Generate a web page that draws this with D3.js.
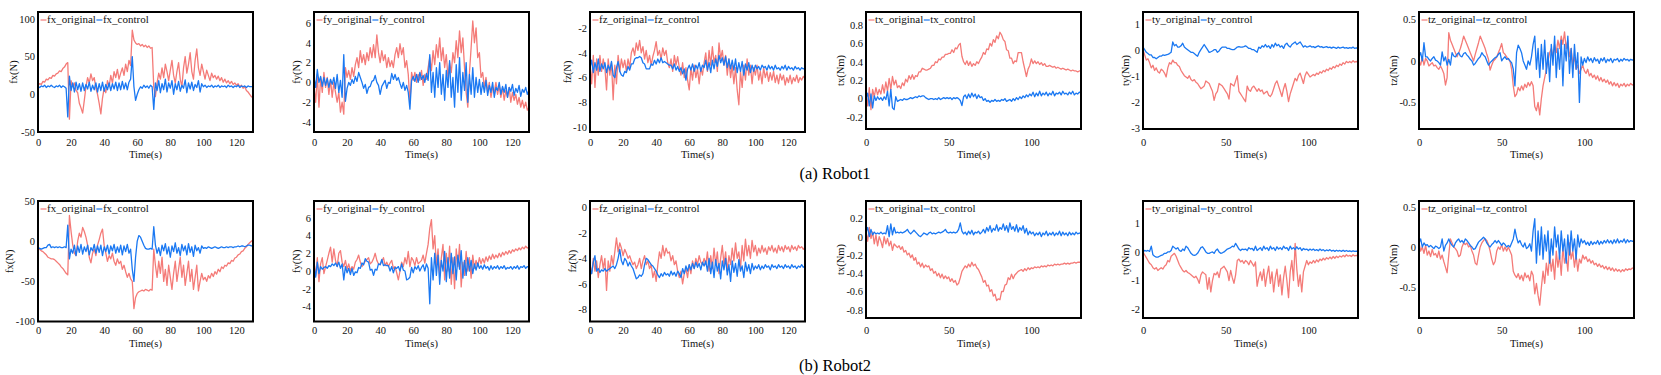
<!DOCTYPE html>
<html>
<head>
<meta charset="utf-8">
<script src="https://cdn.jsdelivr.net/npm/d3@7"></script>
<style>
body { margin: 0; background: #fff; }
svg { display: block; }
svg text { font-family: "Liberation Serif", "Times New Roman", Times, serif; fill: #111; }
</style>
</head>
<body>
<svg id="fig" width="1661" height="375"></svg>
<script>
// sample times (s), one sample per second
const timeSec = d3.range(0, 131);

const xTicksForce = [0, 20, 40, 60, 80, 100, 120];
const xTicksTorque = [0, 50, 100];

// y tick values per panel
const yTicksR1Fx = [-50, 0, 50, 100];
const yTicksR1Fy = [-4, -2, 0, 2, 4, 6];
const yTicksR1Fz = [-10, -8, -6, -4, -2];
const yTicksR1Tx = [-0.2, 0, 0.2, 0.4, 0.6, 0.8];
const yTicksR1Ty = [-3, -2, -1, 0, 1];
const yTicksR1Tz = [-0.5, 0, 0.5];
const yTicksR2Fx = [-100, -50, 0, 50];
const yTicksR2Fy = [-4, -2, 0, 2, 4, 6];
const yTicksR2Fz = [-8, -6, -4, -2, 0];
const yTicksR2Tx = [-0.8, -0.6, -0.4, -0.2, 0, 0.2];
const yTicksR2Ty = [-2, -1, 0, 1];
const yTicksR2Tz = [-0.5, 0, 0.5];

// ---------- Robot1 ----------
const r1FxOriginal = [
  12,14,13,17,16,20,19,22,21,25,
  24,27,28,31,30,34,36,40,42,-33,
  18,10,15,5,2,-12,-18,-25,-8,10,
  22,15,27,18,22,8,0,-12,-26,-5,
  8,2,18,10,25,15,30,22,33,20,
  28,35,25,40,30,45,38,85,72,68,
  66,67,64,66,63,65,62,64,61,62,
  10,-3,15,28,20,35,22,40,30,18,
  32,45,25,15,30,42,20,10,35,50,
  28,40,55,30,20,45,60,35,25,40,
  30,20,32,25,18,28,22,25,20,24,
  18,22,16,20,15,18,14,17,13,15,
  12,14,10,12,8,10,5,3,0,-3,-5];
const r1FxControl = [
  10,9,11,10,12,9,11,10,12,10,
  9,11,10,12,9,11,10,8,-30,24,
  5,15,3,16,6,14,4,15,5,13,
  7,16,4,12,6,15,3,14,5,16,
  4,13,6,15,5,14,7,16,5,15,
  6,17,7,15,6,16,20,50,10,-8,
  0,6,10,8,12,9,11,8,12,10,
  -20,15,5,18,2,14,6,20,3,15,
  8,18,0,14,6,17,4,12,8,19,
  2,15,7,16,5,13,9,18,3,14,
  10,12,9,11,10,12,9,11,10,12,
  9,11,10,11,9,12,10,11,9,11,
  10,12,9,11,10,11,9,11,10,10,10];

const r1FyOriginal = [
  -0.5,-2,0.8,-2.5,0.5,-1,1,-0.5,0.5,-1.2,
  0.3,-1.5,0,-1,-2,-1,-3,-2,-3.2,1.5,
  0.5,1.2,0.3,1.5,0.6,1.8,2.5,1.5,3.2,2,
  2.8,1.8,3,2.2,3.5,2.5,3.8,2.5,4.8,3,
  2,3.2,2.2,2.8,1.5,2.5,1.6,2.2,1.5,2.8,
  3.5,2.5,3.9,2.8,3.5,1.5,2.2,0.8,-2.1,1,
  0.2,1,0,0.8,0.2,1.2,-0.3,0.8,0.3,1.5,
  2.5,1.2,3.2,1.8,3.8,2.5,4.5,2.2,3.5,1.5,
  2.8,0.5,2,1,3,2,4.2,2.5,5.2,3,
  4.5,1.5,-1,-2.5,1,3.5,6.2,4,5.5,2.5,
  3,0.5,1,-0.5,0.5,-1,0,-1.5,-0.5,-1,
  0,-1.2,-0.3,-1.5,-0.5,-1.8,-0.8,-1.5,-0.5,-2,
  -1,-1.8,-1.2,-2.2,-1.5,-2.5,-1.8,-2.6,-2,-2.8,-2.5];
const r1FyControl = [
  0.5,-0.5,1.3,0,0.6,-0.4,0.5,-0.3,0.4,-0.5,
  0.3,-0.2,0.5,-0.6,0.8,-1,0.2,-1.5,2.8,-1.9,
  -0.6,0,-0.3,0.3,-0.1,0.6,0.1,1,0.5,0,
  -0.6,-0.2,-1.1,-0.5,-0.4,0.1,0.2,0.7,0,-0.3,
  -1.2,-0.4,-0.1,0.2,-0.6,0,-0.1,0.9,0.3,0.8,
  0.2,0.5,-0.1,-0.6,0,-0.8,-0.3,-1,-2.7,0.2,
  0.6,0.1,0.8,0,1,0.3,0.7,0,0.9,0.2,
  2.8,-1,1,-1.5,1.5,-0.5,2,-1.2,0.8,-1.8,
  1.2,-0.5,2.2,-1.5,0.5,-2.5,1.8,-1,2.5,-1.8,
  1,-0.8,2,-2,0.8,-1.2,1.5,-1.5,0.5,-1,
  0.3,-1.2,0,-1,0.2,-1.3,-0.3,-1,0,-1.5,
  -0.5,-0.8,0,-1.2,-0.4,-1,-0.2,-1.5,-0.5,-0.9,
  -0.2,-1.3,-0.6,-1,-0.3,-1.4,-0.7,-1,-0.5,-1.2,-0.8];

const r1FzOriginal = [
  -5,-6.5,-4.2,-6.8,-4.5,-5.8,-4.2,-5.5,-4.5,-5.2,
  -7,-4.5,-5.8,-4.8,-7.8,-5,-6.5,-4.2,-5.5,-4.5,
  -5.2,-4.6,-5.5,-4.5,-5.2,-4,-3.6,-4.2,-3.2,-3.8,
  -3,-4,-3.5,-4.5,-3.8,-4.8,-4.2,-5,-4.3,-3.8,
  -3.1,-4.2,-3.8,-4.5,-3.6,-4.2,-3.8,-4.8,-5.2,-4.5,
  -5.5,-4.2,-5,-4.3,-5.2,-5.8,-4.8,-6,-5.2,-6.2,
  -7,-5.2,-6.2,-5,-6,-5.3,-6.5,-5.2,-5.8,-4.8,
  -4,-5.5,-3.8,-5,-3.5,-4.8,-4.2,-5.5,-3.2,-4.5,
  -3.8,-5,-4.2,-5.8,-4.5,-6,-5,-6.5,-5.2,-7,
  -8.2,-5.5,-6.8,-5,-6.2,-4.5,-5.8,-5,-6.5,-5.2,
  -5.8,-5,-6.2,-5.5,-6.5,-5.2,-6,-5.5,-6.3,-5.6,
  -6.2,-5.5,-6.4,-5.8,-6.5,-5.7,-6.2,-5.8,-6.6,-6,
  -6.4,-5.8,-6.5,-6,-6.3,-5.8,-6.4,-6,-6.2,-5.9,-6.1];
const r1FzControl = [
  -5.2,-4.6,-5.6,-4.8,-5.4,-4.5,-5.5,-4.9,-5.3,-4.8,
  -5.6,-5,-5.4,-4.7,-5.8,-6,-5.2,-4.7,-5.5,-5.8,
  -5.9,-5.5,-5.6,-5.1,-5.4,-4.9,-4.9,-4.5,-4.4,-4.4,
  -4.3,-4.4,-4.8,-4.9,-5.3,-5.3,-5.3,-4.9,-5,-4.6,
  -4.9,-4.5,-4.8,-4.4,-4.8,-4.7,-4.8,-4.9,-5,-5,
  -5.3,-4.9,-5.4,-5.1,-5.5,-5.2,-5.7,-5.3,-6.2,-5.3,
  -5,-5.4,-4.9,-5.5,-5,-5.3,-4.8,-5.5,-5,-5.2,
  -4.6,-5.4,-4.8,-5.6,-4.6,-5.3,-4.5,-5.1,-4.2,-4.8,
  -4.4,-5,-4.3,-5.2,-4.5,-5.3,-4.6,-5.4,-4.5,-5.6,
  -4.8,-5.5,-4.7,-5.8,-4.9,-5.4,-4.8,-5.6,-5,-5.5,
  -5,-5.3,-5.1,-5.4,-5,-5.2,-5.1,-5.4,-5,-5.3,
  -5.1,-5.4,-5,-5.3,-5.2,-5.4,-5.1,-5.3,-5,-5.4,
  -5.1,-5.3,-5.2,-5.4,-5.1,-5.3,-5.2,-5.4,-5.2,-5.3,-5.2];

const r1TxOriginal = [
  0.05,-0.08,0.12,-0.12,0.1,0.02,0.12,0.04,0.1,0.05,
  0.15,0.06,0.18,0.08,0.22,0.1,0.24,0.15,0.2,0.12,
  0.14,0.11,0.17,0.14,0.21,0.18,0.25,0.21,0.26,0.21,
  0.25,0.24,0.29,0.29,0.33,0.32,0.31,0.31,0.32,0.33,
  0.36,0.36,0.4,0.39,0.43,0.42,0.45,0.45,0.48,0.48,
  0.49,0.49,0.53,0.5,0.55,0.54,0.58,0.6,0.46,0.4,
  0.37,0.41,0.36,0.4,0.35,0.38,0.36,0.4,0.38,0.42,
  0.45,0.5,0.48,0.54,0.53,0.6,0.57,0.64,0.61,0.68,
  0.65,0.72,0.69,0.64,0.62,0.53,0.52,0.44,0.44,0.38,
  0.41,0.4,0.5,0.5,0.5,0.4,0.32,0.24,0.32,0.36,
  0.43,0.38,0.41,0.38,0.4,0.37,0.39,0.36,0.38,0.35,
  0.35,0.36,0.35,0.34,0.35,0.33,0.34,0.33,0.32,0.33,
  0.32,0.31,0.32,0.31,0.3,0.31,0.3,0.3,0.29,0.3,0.3];
const r1TxControl = [
  0,0.06,-0.08,0.05,-0.1,0.03,-0.02,0.02,-0.01,0.01,
  -0.02,0.02,-0.01,0.08,-0.08,0.1,-0.1,-0.12,0.02,-0.03,
  -0.02,-0.01,-0.02,0,-0.01,-0.01,0,0.01,0,0.01,
  0.02,0.01,0.03,0.02,0.03,0.03,0.01,0,-0.01,0,
  0,-0.01,0,-0.01,0.01,-0.01,0,0.01,0,0.01,
  0,0.01,-0.01,0.01,0,0.01,0,-0.02,-0.075,0.02,
  0.04,0,0.05,0.01,0.06,0.02,0.05,0,0.04,0.01,
  0.02,-0.02,0,-0.03,-0.02,-0.04,-0.02,-0.03,-0.01,-0.03,
  -0.02,-0.03,-0.01,-0.02,0,-0.03,-0.02,-0.01,-0.03,0,
  -0.02,0.01,-0.01,0.02,0,0.03,0.01,0.04,0.02,0.05,
  0.03,0.07,0.02,0.06,0.03,0.08,0.03,0.06,0.04,0.07,
  0.03,0.06,0.04,0.08,0.03,0.06,0.05,0.07,0.04,0.08,
  0.05,0.06,0.04,0.07,0.05,0.08,0.04,0.06,0.05,0.07,0.06];

const r1TyOriginal = [
  0,-0.2,-0.4,-0.35,-0.5,-0.7,-0.6,-0.8,-0.7,-0.85,
  -0.9,-0.75,-0.8,-0.9,-1.05,-0.7,-0.5,-0.55,-0.4,-0.5,
  -0.5,-0.6,-0.65,-0.8,-0.9,-1,-1.05,-1.1,-1,-1.15,
  -1.2,-1.15,-1.25,-1.3,-1.4,-1.5,-1.45,-1.4,-1.2,-1.25,
  -1.3,-1.45,-1.6,-1.95,-1.7,-1.6,-1.3,-1.35,-1.4,-1.5,
  -1.6,-1.7,-1.9,-1.3,-1.35,-1.4,-1.2,-1,-1.6,-1.7,
  -1.8,-1.9,-2,-1.4,-1.55,-1.6,-1.45,-1.4,-1.5,-1.6,
  -1.5,-1.6,-1.55,-1.7,-1.65,-1.6,-1.75,-1.8,-1.7,-1.5,
  -1.3,-1.2,-1.4,-1.6,-1.8,-1.5,-1.3,-1.6,-2,-1.7,
  -1.5,-1.3,-1.1,-1.2,-1,-0.9,-1.1,-1.3,-1,-0.85,
  -0.95,-1.05,-1,-0.95,-1,-0.9,-0.95,-0.85,-0.9,-0.8,
  -0.85,-0.75,-0.8,-0.7,-0.75,-0.65,-0.7,-0.6,-0.65,-0.55,
  -0.6,-0.5,-0.55,-0.45,-0.5,-0.45,-0.5,-0.42,-0.48,-0.45,-0.5];
const r1TyControl = [
  0.1,0,-0.1,-0.15,-0.2,-0.2,-0.3,-0.3,-0.35,-0.3,
  -0.25,-0.25,-0.2,-0.22,-0.2,-0.18,-0.15,-0.1,0.3,0.15,
  0.2,0.1,0.1,0.15,0.25,0.1,0.05,0,-0.05,-0.1,
  -0.1,-0.15,-0.2,-0.25,-0.1,0,0.1,0.2,0.1,0,
  -0.1,-0.08,-0.05,0,0,-0.1,-0.05,0.05,0.1,0.1,
  0.1,0.05,0.05,0.02,0,0,0.05,0.1,0.12,0.1,
  0.1,0.12,0.15,0.1,0.05,0.05,0,0,-0.05,-0.1,
  0.1,0.05,0.15,0.1,0.2,0.1,0.15,0.05,0.2,0.1,
  0.25,0.15,0.2,0.1,0.15,0.05,0.2,0.25,0.15,0.1,
  0.2,0.25,0.3,0.2,0.25,0.3,0.2,0.1,0.15,0.1,
  0.12,0.15,0.1,0.12,0.08,0.12,0.15,0.1,0.12,0.08,
  0.1,0.12,0.08,0.1,0.06,0.1,0.08,0.05,0.1,0.06,
  0.08,0.1,0.06,0.08,0.05,0.08,0.06,0.1,0.05,0.07,0.05];

const r1TzOriginal = [
  0,-0.05,0.05,-0.05,0.03,0,-0.06,-0.04,-0.02,-0.06,
  -0.05,-0.08,-0.1,-0.06,-0.1,-0.15,-0.29,-0.2,0.34,0.25,
  0.2,0.15,0.1,0.05,0.1,0.15,0.22,0.3,0.25,0.2,
  0.15,0.1,0.05,0,0.08,0.15,0.22,0.3,0.25,0.2,
  0.15,0.08,0.02,-0.11,-0.05,0,0.02,0.05,0.1,0.15,
  0.21,0.1,0.08,0.05,0.02,0,-0.1,-0.3,-0.43,-0.4,
  -0.32,-0.36,-0.3,-0.35,-0.28,-0.32,-0.26,-0.3,-0.25,-0.3,
  -0.55,-0.6,-0.5,-0.65,-0.45,-0.3,-0.2,-0.1,0,0.1,
  0.15,0.05,0.2,0.1,0.25,0.15,0.3,0.2,0.35,0.15,
  0.25,0.05,0.15,-0.05,0.05,-0.1,-0.05,-0.15,-0.1,-0.05,
  -0.12,-0.15,-0.1,-0.18,-0.15,-0.2,-0.17,-0.22,-0.18,-0.24,
  -0.2,-0.25,-0.22,-0.26,-0.23,-0.28,-0.25,-0.3,-0.26,-0.3,
  -0.27,-0.32,-0.28,-0.3,-0.27,-0.31,-0.28,-0.3,-0.27,-0.29,-0.28];
const r1TzControl = [
  0.05,0.1,0,0.22,0.05,0.05,0.02,0,0.03,0.05,
  0.01,0,-0.02,-0.05,0.11,0,0.05,-0.05,0.02,-0.05,
  0.1,0.06,0.05,0.08,0.1,0.06,0.05,0.09,0.1,0.07,
  0.05,0.02,0,-0.05,-0.03,0,0.03,0.05,0.1,0.07,
  0.05,0,-0.05,-0.02,0,0.02,0.04,0.05,0.08,0.1,
  0,0.03,0.05,0.02,0.03,0,-0.02,-0.1,-0.3,0.1,
  0.19,0.15,0.1,0,-0.05,-0.1,0,-0.05,0.05,0.2,
  0.3,-0.1,0.15,-0.2,0.2,-0.1,0.25,-0.15,0.1,-0.25,
  0.2,-0.05,0.3,-0.2,0.15,-0.1,0.25,-0.3,0.2,0,
  0.3,-0.15,0.15,-0.2,0.2,-0.1,0.1,-0.5,0.05,-0.05,
  0.03,-0.02,0.05,0,0.03,-0.02,0.04,0,0.02,-0.03,
  0.03,0,0.04,-0.02,0.02,0,0.03,-0.02,0.02,0.01,
  0.03,-0.01,0.02,0,0.03,0.01,0.02,0,0.02,0.01,0.02];

// ---------- Robot2 ----------
const r2FxOriginal = [
  -8,-10,-12,-13,-15,-17,-20,-21,-22,-22,
  -23,-25,-27,-29,-32,-34,-37,-40,-42,32,
  12,-5,-15,-18,0,10,5,17,12,5,
  -5,-20,-27,-15,-10,-18,-5,2,10,15,
  -5,-15,-25,-18,-22,-15,-25,-30,-22,-28,
  -25,-35,-30,-38,-45,-40,-47,-50,-84,-70,
  -65,-63,-62,-61,-62,-60,-61,-62,-60,-61,
  -10,-30,-45,-25,-40,-20,-50,-35,-55,-30,
  -45,-60,-40,-25,-50,-35,-20,-45,-30,-55,
  -40,-25,-50,-35,-60,-45,-30,-62,-50,-40,
  -48,-45,-50,-43,-46,-40,-44,-38,-41,-35,
  -38,-32,-34,-30,-31,-27,-28,-24,-25,-21,
  -20,-17,-16,-13,-12,-9,-7,-4,-2,0,1];
const r2FxControl = [
  -8,-9,-10,-9,-8,-8,-5,-4,-8,-7,
  -8,-7,-8,-7,-8,-8,-7,-8,20,-22,
  -10,-15,-5,-18,-6,-14,-4,-16,-7,-13,
  -5,-17,-8,-12,-4,-15,-6,-14,-5,-18,
  -7,-13,-5,-16,-6,-12,-4,-15,-7,-14,
  -5,-17,-6,-13,-4,-15,-10,-35,-50,-20,
  0,7,5,0,-5,-9,-10,-10,-9,-10,
  18,-5,-15,-8,-18,-5,-12,-3,-16,-7,
  -20,-6,-13,-2,-15,-8,-18,-4,-12,-6,
  -17,-3,-14,-7,-19,-5,-12,-8,-15,-6,
  -9,-8,-9,-7,-8,-9,-8,-7,-8,-9,
  -8,-7,-8,-8,-7,-8,-7,-7,-8,-7,
  -7,-6,-7,-6,-6,-7,-6,-5,-5,-6,-5];

const r2FyOriginal = [
  1,-0.5,1.5,-1.2,0.8,1.5,-0.3,0.5,1.2,2,
  2.7,1,2.5,1.2,0.5,2,2.3,1,0.5,1.2,
  0.2,0.8,0,0.5,0.2,1,1.3,1.8,1,0.5,
  0.8,1.1,1.3,1.5,0.8,1,1.4,2,1.2,0.8,
  0.7,1.1,1.5,0.6,1,0.5,0.9,1.2,0.3,0.5,
  -0.2,-1,0,1,0.5,1.5,0.8,2.2,0.5,1.5,
  1.2,0.6,1.5,0.8,1,1.2,1.8,0.9,2,3,
  4.8,5.8,2.5,4,0.5,2.5,-0.5,1.5,3,-1,
  2,0,2.8,-1.5,1.5,-2,2.5,0.5,3,-1.8,
  1,-0.5,2.2,0,1.5,-0.8,1.8,0.3,1.2,0.5,
  1.5,0.8,1.4,0.9,1.6,1.1,1.7,1.3,1.9,1.4,
  1.8,1.5,2,1.6,2.1,1.8,2.2,1.9,2.3,2,
  2.4,2.2,2.5,2.3,2.6,2.4,2.7,2.5,2.8,2.6,2.7];
const r2FyControl = [
  0.5,-0.7,1,-0.3,0.5,0.2,0.4,0.5,0.3,0.6,
  0.5,0.8,0.6,0.9,0.5,1,0.3,0.8,-1,0.5,
  -0.2,0.3,-0.4,0.3,-0.5,-0.1,-0.2,0.4,0.3,0.9,
  0.7,1.4,1.1,1,0.1,0.2,-0.5,0.2,0.1,0.8,
  0.7,1.3,0.6,0.7,0.6,0.6,0,0.5,-0.2,0.4,
  0.3,0.5,0,0.8,0.1,0,-1,-0.9,-0.7,0.4,
  -0.2,0.5,0.2,0.6,0,0.4,0.7,0,0.8,0.3,
  -3.7,1.5,-1,2,-0.5,1.8,-1.5,1.2,0,2.2,
  -1.2,1.5,-0.8,2,-0.3,1.6,-1,1.8,0.2,2.3,
  -0.8,1.2,-0.5,1.5,0,1.2,-0.3,0.8,0.1,0.9,
  0.3,0.6,0.2,0.7,0.3,0.5,0.1,0.6,0.2,0.5,
  0.3,0.6,0.2,0.5,0.3,0.6,0.2,0.4,0.3,0.5,
  0.2,0.5,0.3,0.6,0.2,0.5,0.4,0.6,0.3,0.5,0.4];

const r2FzOriginal = [
  -4.5,-5.2,-4,-5,-4.2,-5.5,-4.5,-3.8,-4.8,-4,
  -6.5,-4.2,-5,-3.8,-4.5,-3.5,-2.4,-3.5,-2.8,-3.2,
  -3.8,-3.3,-3.6,-4,-3.8,-4.2,-4.5,-4.3,-4.8,-4.5,
  -4,-4.8,-4.2,-3.8,-4.5,-4.2,-4.8,-4.5,-5.5,-5,
  -5.8,-4.5,-3.5,-4,-3,-3.8,-3.2,-3.6,-3.5,-4.2,
  -3.8,-4.5,-4.2,-5,-5.5,-5,-6,-5.2,-4.8,-5.5,
  -4.5,-5.2,-4.2,-4.8,-4,-4.5,-3.8,-4.3,-4.5,-4,
  -4.5,-3.5,-5,-3.8,-4.8,-3.2,-4.5,-3.5,-5.2,-4,
  -3,-4.5,-3.5,-5,-3.8,-4.5,-3.2,-4.2,-2.8,-4,
  -3.5,-4.8,-3,-4.2,-2.5,-3.8,-3,-4,-2.6,-3.5,
  -3,-3.8,-3.2,-3.6,-3,-3.5,-3.2,-3.7,-3.1,-3.4,
  -3,-3.5,-3.2,-3.6,-3,-3.4,-3.1,-3.5,-3,-3.3,
  -3.1,-3.5,-3,-3.3,-3.1,-3.4,-3,-3.2,-3.1,-3.3,-3.1];
const r2FzControl = [
  -4.8,-5.2,-4.3,-3.8,-5,-4.8,-5.1,-4.9,-5,-4.8,
  -5,-4.9,-4.8,-4.7,-4.6,-4.8,-4.5,-4,-3.3,-4.2,
  -4.5,-4,-4.2,-4.6,-4.3,-4.6,-4.8,-5.2,-5.6,-5.5,
  -5.3,-5.4,-5.2,-4.5,-4,-4.1,-4.3,-4.5,-4.6,-4.8,
  -5,-5.3,-5.5,-5.2,-5.4,-5.1,-5.3,-5.2,-5.4,-5,
  -5.3,-5.1,-5.4,-5,-5.2,-5.5,-4.8,-5.2,-4.6,-5,
  -4.5,-4.9,-4.4,-4.8,-4.3,-4.7,-4.4,-4.9,-4.3,-4.6,
  -4.2,-5,-4,-5.2,-4.3,-5.5,-4.1,-5,-4.4,-5.6,
  -4.2,-4.9,-4,-5.3,-4.5,-5.8,-4.2,-5.1,-4.4,-5.4,
  -4.1,-5,-4.6,-5.5,-4.3,-5,-4.5,-5.2,-4.4,-4.9,
  -4.6,-4.8,-4.5,-4.9,-4.6,-4.8,-4.5,-4.7,-4.6,-4.9,
  -4.5,-4.7,-4.6,-4.8,-4.5,-4.7,-4.6,-4.8,-4.5,-4.7,
  -4.6,-4.8,-4.5,-4.7,-4.6,-4.8,-4.6,-4.7,-4.5,-4.7,-4.6];

const r2TxOriginal = [
  0.05,-0.05,0.1,-0.02,0.05,-0.08,0.02,-0.1,0,-0.05,
  -0.12,0,-0.08,-0.02,-0.1,-0.05,-0.15,-0.08,-0.1,-0.12,
  -0.1,-0.14,-0.11,-0.17,-0.15,-0.2,-0.18,-0.23,-0.2,-0.26,
  -0.23,-0.3,-0.28,-0.33,-0.29,-0.34,-0.31,-0.33,-0.32,-0.37,
  -0.35,-0.4,-0.38,-0.43,-0.4,-0.45,-0.41,-0.46,-0.43,-0.46,
  -0.44,-0.49,-0.46,-0.5,-0.48,-0.53,-0.51,-0.45,-0.38,-0.35,
  -0.32,-0.34,-0.3,-0.33,-0.28,-0.32,-0.3,-0.34,-0.36,-0.4,
  -0.44,-0.5,-0.48,-0.54,-0.53,-0.6,-0.58,-0.65,-0.63,-0.7,
  -0.68,-0.69,-0.6,-0.6,-0.53,-0.52,-0.45,-0.47,-0.41,-0.46,
  -0.42,-0.4,-0.38,-0.37,-0.36,-0.38,-0.35,-0.37,-0.34,-0.36,
  -0.34,-0.35,-0.33,-0.34,-0.33,-0.34,-0.32,-0.33,-0.32,-0.33,
  -0.31,-0.32,-0.31,-0.32,-0.3,-0.31,-0.3,-0.31,-0.3,-0.3,
  -0.29,-0.3,-0.29,-0.3,-0.29,-0.29,-0.28,-0.29,-0.28,-0.28,-0.28];
const r2TxControl = [
  0.05,0.1,0,0.08,0.02,0.05,0.03,0.04,0.03,0.05,
  0.03,0.04,0.03,0.12,0,0.14,0.02,0.1,0.04,0.05,
  0.04,0.05,0.04,0.05,0.06,0.08,0.05,0.03,0.05,0.07,
  0.05,0.03,0.01,0,0.02,0.04,0.03,0.02,0.04,0.05,
  0.03,0.04,0.03,0.04,0.05,0.04,0.05,0.06,0.08,0.05,
  0.04,0.05,0.04,0.05,0.04,0.05,0.08,0.15,0.06,0.03,
  0.05,0.02,0.06,0.03,0.07,0.02,0.05,0.04,0.06,0.03,
  0.05,0.08,0.04,0.1,0.06,0.12,0.05,0.09,0.07,0.13,
  0.06,0.1,0.08,0.14,0.07,0.12,0.05,0.15,0.08,0.11,
  0.06,0.13,0.05,0.1,0.07,0.12,0.04,0.09,0.02,0.06,
  0.03,0.05,0.01,0.04,0.02,0.05,0,0.04,0.02,0.06,
  0.01,0.04,0.02,0.05,0.01,0.04,0.02,0.06,0.01,0.05,
  0.02,0.04,0.01,0.05,0.02,0.04,0.02,0.05,0.03,0.04,0.03];

const r2TyOriginal = [
  0,-0.1,-0.2,-0.3,-0.4,-0.45,-0.55,-0.6,-0.55,-0.65,
  -0.6,-0.55,-0.6,-0.5,-0.45,-0.3,-0.35,-0.15,-0.1,-0.05,
  -0.15,-0.3,-0.45,-0.55,-0.65,-0.7,-0.65,-0.72,-0.75,-0.8,
  -0.85,-0.9,-0.85,-0.95,-1.1,-0.8,-0.7,-0.75,-0.8,-1.3,
  -0.9,-1.4,-1,-0.75,-0.8,-0.7,-0.9,-0.6,-0.55,-0.5,
  -0.6,-0.7,-1,-0.65,-0.9,-1.1,-0.8,-0.3,-0.25,-0.35,
  -0.3,-0.4,-0.3,-0.35,-0.45,-0.3,-0.4,-0.5,-0.35,-1.2,
  -0.9,-0.7,-1,-0.6,-1.2,-0.8,-0.5,-1.1,-0.7,-1.4,
  -0.9,-0.6,-1.2,-0.8,-1.5,-0.9,-0.5,-1,-1.6,-0.7,
  -0.3,-1,0.3,-0.6,-1.2,-0.8,-1.4,-0.7,-0.5,-0.3,
  -0.45,-0.35,-0.4,-0.3,-0.38,-0.28,-0.35,-0.25,-0.3,-0.22,
  -0.28,-0.2,-0.25,-0.18,-0.24,-0.16,-0.22,-0.15,-0.2,-0.14,
  -0.18,-0.12,-0.17,-0.1,-0.15,-0.12,-0.16,-0.1,-0.14,-0.12,-0.15];
const r2TyControl = [
  0,0.05,0.03,0.05,0.02,0.2,-0.1,-0.15,-0.18,-0.18,
  -0.15,-0.12,-0.1,-0.05,-0.05,0,0,0.05,0.2,0.15,
  0.1,0.15,0.05,0.02,0.1,0.05,0.2,0.15,0.05,-0.05,
  -0.1,-0.12,-0.1,-0.05,0.05,0.15,0.18,0.1,0,-0.05,
  -0.05,-0.02,0,-0.05,0.05,0.1,0,-0.05,-0.03,0,
  0.05,0.1,0.12,0.15,0.2,0.18,0.3,0.2,0.1,0.05,
  0.1,0.08,0.1,0.05,0.15,0.1,0.12,0.05,0.2,0.05,
  0.1,0.15,0.05,0.2,0.1,0.15,0.05,0.2,0.1,0.15,
  0.05,0.18,0.1,0.15,0.08,0.2,0.12,0.15,0.05,0.2,
  0.1,0.15,0.08,0.18,0.1,0.15,0.05,0.12,0.08,0.1,
  0.05,0.1,0.06,0.1,0.05,0.08,0.04,0.1,0.05,0.08,
  0.03,0.07,0.04,0.08,0.03,0.06,0.02,0.06,0.03,0.05,
  0.02,0.06,0.02,0.05,0.02,0.04,0.01,0.04,0.02,0.03,0.02];

const r2TzOriginal = [
  0.05,-0.05,0,-0.08,0.02,-0.1,-0.05,-0.12,-0.03,-0.1,
  -0.08,-0.13,-0.05,-0.15,-0.1,-0.18,-0.25,-0.32,-0.1,0.1,
  0.05,0,-0.02,-0.05,-0.12,-0.1,0,0.05,0.03,0.05,
  0,0.02,-0.05,-0.1,-0.2,-0.22,-0.1,0,0.05,0.08,
  0.1,0.08,0.03,-0.05,-0.15,-0.22,-0.18,-0.05,0,-0.03,
  0.03,-0.05,0,-0.05,0,-0.05,-0.1,-0.3,-0.35,-0.38,
  -0.33,-0.4,-0.35,-0.42,-0.32,-0.38,-0.35,-0.42,-0.3,-0.35,
  -0.58,-0.45,-0.6,-0.72,-0.5,-0.3,-0.45,-0.2,-0.35,-0.1,
  -0.3,-0.15,-0.4,-0.05,-0.25,-0.1,-0.35,0,-0.2,-0.1,
  -0.3,0.05,-0.15,-0.05,-0.25,-0.1,-0.3,-0.15,-0.2,-0.1,
  -0.15,-0.12,-0.18,-0.15,-0.2,-0.17,-0.22,-0.2,-0.24,-0.21,
  -0.25,-0.23,-0.27,-0.24,-0.28,-0.25,-0.29,-0.26,-0.3,-0.27,
  -0.3,-0.28,-0.31,-0.28,-0.3,-0.27,-0.29,-0.27,-0.28,-0.26,-0.27];
const r2TzControl = [
  0.05,0.1,0,0.05,0.02,0.03,0,0.02,0,-0.02,
  0.01,0,-0.02,0,0.1,-0.05,0.02,0.05,0.1,0.05,
  0.02,0,0.05,0.08,0.1,0.06,0.08,0.05,0.1,0.08,
  0.05,0.02,0,-0.03,-0.02,0.02,0.06,0.08,0.1,0.12,
  0.1,0.05,0.02,0,0.03,0.05,0.08,0.05,0.08,0.05,
  0.02,0.05,0.03,0,0.02,0,0.05,0.1,0.22,0.12,
  0.05,0.08,0.03,0,0.05,-0.02,0,0.04,-0.05,0.2,
  0.35,-0.2,0.2,-0.1,0.25,-0.15,0.15,-0.05,0.2,-0.2,
  0.1,-0.1,0.25,0,0.15,-0.15,0.2,-0.05,0.1,-0.2,
  0.15,-0.1,0.2,-0.05,0.1,-0.15,0.15,0,0.1,0.05,
  0.08,0.03,0.06,0.02,0.07,0.03,0.06,0.04,0.08,0.03,
  0.07,0.04,0.08,0.05,0.09,0.05,0.08,0.04,0.09,0.05,
  0.1,0.05,0.08,0.06,0.1,0.05,0.09,0.06,0.08,0.07,0.08];

// ---------- panel table ----------
const panels = [
  {row: 0, col: 0, key: 'fx', unit: 'N',  orig: r1FxOriginal, ctrl: r1FxControl, yDomain: [-50, 109],     yTicks: yTicksR1Fx, xTicks: xTicksForce},
  {row: 0, col: 1, key: 'fy', unit: 'N',  orig: r1FyOriginal, ctrl: r1FyControl, yDomain: [-5, 7.1],      yTicks: yTicksR1Fy, xTicks: xTicksForce},
  {row: 0, col: 2, key: 'fz', unit: 'N',  orig: r1FzOriginal, ctrl: r1FzControl, yDomain: [-10.4, -0.7],  yTicks: yTicksR1Fz, xTicks: xTicksForce},
  {row: 0, col: 3, key: 'tx', unit: 'Nm', orig: r1TxOriginal, ctrl: r1TxControl, yDomain: [-0.33, 0.94],  yTicks: yTicksR1Tx, xTicks: xTicksTorque},
  {row: 0, col: 4, key: 'ty', unit: 'Nm', orig: r1TyOriginal, ctrl: r1TyControl, yDomain: [-3.05, 1.45],  yTicks: yTicksR1Ty, xTicks: xTicksTorque},
  {row: 0, col: 5, key: 'tz', unit: 'Nm', orig: r1TzOriginal, ctrl: r1TzControl, yDomain: [-0.82, 0.59],  yTicks: yTicksR1Tz, xTicks: xTicksTorque},
  {row: 1, col: 0, key: 'fx', unit: 'N',  orig: r2FxOriginal, ctrl: r2FxControl, yDomain: [-100, 50],     yTicks: yTicksR2Fx, xTicks: xTicksForce},
  {row: 1, col: 1, key: 'fy', unit: 'N',  orig: r2FyOriginal, ctrl: r2FyControl, yDomain: [-5.7, 7.9],    yTicks: yTicksR2Fy, xTicks: xTicksForce},
  {row: 1, col: 2, key: 'fz', unit: 'N',  orig: r2FzOriginal, ctrl: r2FzControl, yDomain: [-8.93, 0.47],  yTicks: yTicksR2Fz, xTicks: xTicksForce},
  {row: 1, col: 3, key: 'tx', unit: 'Nm', orig: r2TxOriginal, ctrl: r2TxControl, yDomain: [-0.89, 0.39],  yTicks: yTicksR2Tx, xTicks: xTicksTorque},
  {row: 1, col: 4, key: 'ty', unit: 'Nm', orig: r2TyOriginal, ctrl: r2TyControl, yDomain: [-2.31, 1.78],  yTicks: yTicksR2Ty, xTicks: xTicksTorque},
  {row: 1, col: 5, key: 'tz', unit: 'Nm', orig: r2TzOriginal, ctrl: r2TzControl, yDomain: [-0.88, 0.57],  yTicks: yTicksR2Tz, xTicks: xTicksTorque}
];

// ---------- layout ----------
const colorOriginal = '#f47b78';
const colorControl = '#1a78f2';
const colLeft = [38, 314, 590, 866, 1143, 1419];
const plotW = 215;
const rows = [
  {top: 12,  bottom: [132, 132, 132, 129, 129, 129],       tickBase: 146,   titleBase: 157.5, caption: '(a) Robot1', captionBase: 179},
  {top: 201, bottom: [321.5, 321.5, 321.5, 318, 318, 318], tickBase: 333.5, titleBase: 347,   caption: '(b) Robot2', captionBase: 371}
];

const svg = d3.select('#fig');
svg.append('rect').attr('width', 1661).attr('height', 375).attr('fill', '#fff');

panels.forEach((p, k) => {
  const row = rows[p.row];
  const left = colLeft[p.col], top = row.top, bottom = row.bottom[p.col];

  const x = d3.scaleLinear().domain([0, 130]).range([left, left + plotW]);
  const y = d3.scaleLinear().domain(p.yDomain).range([bottom, top]);

  const g = svg.append('g').attr('class', 'panel');

  // clip lines to the axes box
  const clipId = 'clip' + k;
  g.append('clipPath').attr('id', clipId).append('rect')
    .attr('x', left).attr('y', top)
    .attr('width', plotW).attr('height', bottom - top);

  const lineGen = d3.line()
    .x((d, i) => x(timeSec[i]))
    .y(d => y(d));

  const lines = g.append('g').attr('clip-path', `url(#${clipId})`);
  lines.append('path').datum(p.orig)
    .attr('fill', 'none').attr('stroke', colorOriginal)
    .attr('stroke-width', 1.3).attr('stroke-linejoin', 'round')
    .attr('d', lineGen);
  lines.append('path').datum(p.ctrl)
    .attr('fill', 'none').attr('stroke', colorControl)
    .attr('stroke-width', 1.3).attr('stroke-linejoin', 'round')
    .attr('d', lineGen);

  // y axis
  const gy = g.append('g')
    .attr('transform', `translate(${left},0)`)
    .call(d3.axisLeft(y).tickValues(p.yTicks).tickSize(0).tickPadding(3)
      .tickFormat(d => String(d)));
  gy.select('.domain').remove();
  gy.attr('font-family', null).attr('font-size', null);
  gy.selectAll('text').style('font-size', '10.5px');

  // x axis
  const gx = g.append('g')
    .attr('transform', `translate(0,${bottom})`)
    .call(d3.axisBottom(x).tickValues(p.xTicks).tickSize(0)
      .tickPadding(row.tickBase - bottom - 7.4)
      .tickFormat(d => String(d)));
  gx.select('.domain').remove();
  gx.attr('font-family', null).attr('font-size', null);
  gx.selectAll('text').style('font-size', '10.5px');

  // axes box
  g.append('rect')
    .attr('x', left).attr('y', top)
    .attr('width', plotW).attr('height', bottom - top)
    .attr('fill', 'none').attr('stroke', '#000').attr('stroke-width', 2);

  // y label, placed just left of the widest tick label
  const maxW = d3.max(gy.selectAll('text').nodes(), n => n.getComputedTextLength());
  const cx = left - 3 - maxW - 6, cy = (top + bottom) / 2;
  g.append('text')
    .attr('transform', `translate(${cx},${cy}) rotate(-90)`)
    .attr('text-anchor', 'middle').attr('dy', '0.35em')
    .style('font-size', '10.5px')
    .text(`${p.key}(${p.unit})`);

  // x label
  g.append('text')
    .attr('x', left + plotW / 2).attr('y', row.titleBase)
    .attr('text-anchor', 'middle')
    .style('font-size', '10.5px')
    .text('Time(s)');

  // legend inside top-left
  const lg = g.append('g');
  let lx = left + 2.5;
  const ly = top + 8;
  [[colorOriginal, p.key + '_original'], [colorControl, p.key + '_control']].forEach(([c, t]) => {
    lg.append('line')
      .attr('x1', lx).attr('x2', lx + 6).attr('y1', ly).attr('y2', ly)
      .attr('stroke', c).attr('stroke-width', 1.2);
    const txt = lg.append('text')
      .attr('x', lx + 6.5).attr('y', top + 10.5)
      .style('font-size', '11px')
      .text(t);
    lx += 6.5 + txt.node().getComputedTextLength() + 0.5;
  });
});

// row captions
rows.forEach(r => {
  svg.append('text')
    .attr('x', 835).attr('y', r.captionBase)
    .attr('text-anchor', 'middle')
    .style('font-size', '16.5px').style('fill', '#000')
    .text(r.caption);
});
</script>
</body>
</html>
